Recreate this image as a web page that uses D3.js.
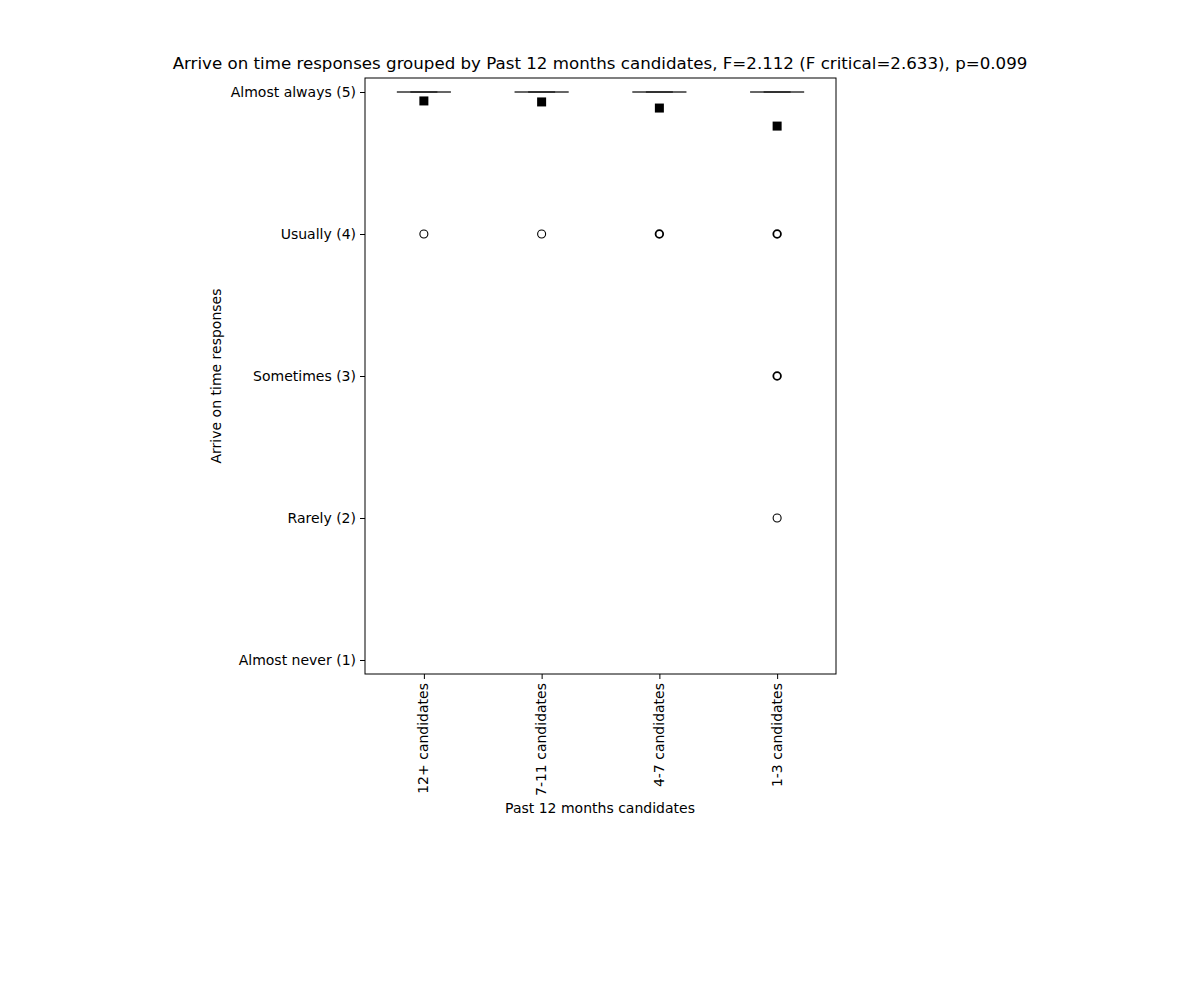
<!DOCTYPE html>
<html><head><meta charset="utf-8">
<script src="https://cdn.jsdelivr.net/npm/d3@7"></script>
<style>body{margin:0;background:#fff;} text{font-family:"DejaVu Sans",sans-serif;fill:#000;}</style>
</head><body>
<svg id="c" width="1200" height="1000"></svg>
<script>
const categories = ["12+ candidates","7-11 candidates","4-7 candidates","1-3 candidates"];
const medians = [5,5,5,5];
const q1 = [5,5,5,5];
const q3 = [5,5,5,5];
const whiskLo = [5,5,5,5];
const whiskHi = [5,5,5,5];
const means = [4.937,4.93,4.887,4.76];
// outliers: [category index, value, overlapping count]
const outliers = [[0,4,1],[1,4,1],[2,4,3],[3,4,5],[3,3,3],[3,2,1]];
const yTickValues = [1,2,3,4,5];
const yTickLabels = ["Almost never (1)","Rarely (2)","Sometimes (3)","Usually (4)","Almost always (5)"];
const title = "Arrive on time responses grouped by Past 12 months candidates, F=2.112 (F critical=2.633), p=0.099";
const xLabel = "Past 12 months candidates";
const yLabel = "Arrive on time responses";

const svg = d3.select("#c");
const L=365, R=836, T=78, B=674;
const x = d3.scaleLinear().domain([0.5,4.5]).range([L,R]);
const y = d3.scaleLinear().domain([0.9014,5.0986]).range([B,T]);

svg.append("text").attr("x",600).attr("y",69).attr("text-anchor","middle").style("font-size","16.67px").text(title);

const g = svg.append("g");
const ya = g.append("g").attr("transform",`translate(${L},0)`)
  .call(d3.axisLeft(y).tickValues(yTickValues).tickFormat((d,i)=>yTickLabels[i]).tickSize(5).tickPadding(4));
ya.select(".domain").remove();
ya.selectAll("text").style("font-size","14px").style("font-family","DejaVu Sans");
const xa = g.append("g").attr("transform",`translate(0,${B})`)
  .call(d3.axisBottom(x).tickValues([1,2,3,4]).tickFormat((d,i)=>categories[i]).tickSize(5).tickPadding(4));
xa.select(".domain").remove();
xa.selectAll("text").style("font-size","14px").style("font-family","DejaVu Sans")
  .attr("transform","rotate(-90)").attr("text-anchor","end").attr("y",-1).attr("dy","0.35em").attr("x",-9);

g.append("rect").attr("x",L).attr("y",T).attr("width",R-L).attr("height",B-T).attr("fill","none").attr("stroke","#000").attr("stroke-width",1);

const capHalf = 27, boxHalf = 13.5;
categories.forEach((c,i)=>{
  const cx = x(i+1);
  g.append("line").attr("x1",cx).attr("x2",cx).attr("y1",y(q3[i])).attr("y2",y(whiskHi[i])).attr("stroke","#333");
  g.append("line").attr("x1",cx).attr("x2",cx).attr("y1",y(q1[i])).attr("y2",y(whiskLo[i])).attr("stroke","#333");
  g.append("line").attr("x1",cx-capHalf).attr("x2",cx+capHalf).attr("y1",y(whiskHi[i])).attr("y2",y(whiskHi[i])).attr("stroke","#333");
  g.append("line").attr("x1",cx-capHalf).attr("x2",cx+capHalf).attr("y1",y(whiskLo[i])).attr("y2",y(whiskLo[i])).attr("stroke","#333");
  g.append("rect").attr("x",cx-boxHalf).attr("y",y(q3[i])).attr("width",boxHalf*2).attr("height",Math.max(0,y(q1[i])-y(q3[i]))).attr("fill","none").attr("stroke","#333");
  g.append("line").attr("x1",cx-boxHalf).attr("x2",cx+boxHalf).attr("y1",y(medians[i])).attr("y2",y(medians[i])).attr("stroke","#222").attr("stroke-width",1.5);
  g.append("rect").attr("x",cx-4.5).attr("y",y(means[i])-4.5).attr("width",9).attr("height",9).attr("fill","#000");
});
outliers.forEach(([ci,v,n])=>{
  g.append("circle").attr("cx",x(ci+1)).attr("cy",y(v)).attr("r",n>1?3.8:4).attr("fill","none").attr("stroke","#000").attr("stroke-width",n>1?1.8:1.1);
});

svg.append("text").attr("x",600).attr("y",813).attr("text-anchor","middle").style("font-size","14px").text(xLabel);
svg.append("text").attr("transform","translate(221,376) rotate(-90)").attr("text-anchor","middle").style("font-size","14px").text(yLabel);
</script>
</body></html>
